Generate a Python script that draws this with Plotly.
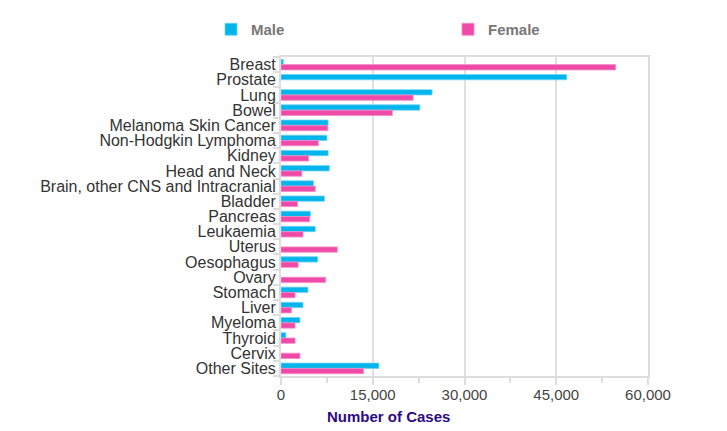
import plotly.graph_objects as go

# Cancer sites, top to bottom
sites = [
    "Breast", "Prostate", "Lung", "Bowel", "Melanoma Skin Cancer",
    "Non-Hodgkin Lymphoma", "Kidney", "Head and Neck",
    "Brain, other CNS and Intracranial", "Bladder", "Pancreas", "Leukaemia",
    "Uterus", "Oesophagus", "Ovary", "Stomach", "Liver", "Myeloma",
    "Thyroid", "Cervix", "Other Sites",
]

# Number of cases
male = [370, 46700, 24700, 22700, 7700, 7500, 7700, 7900, 5300, 7100,
        4800, 5600, None, 6000, None, 4400, 3600, 3100, 800, None, 16000]
female = [54700, None, 21600, 18200, 7650, 6100, 4500, 3400, 5600, 2700,
          4700, 3600, 9200, 2800, 7300, 2300, 1700, 2300, 2300, 3100, 13500]

x_ticks = [0, 15000, 30000, 45000, 60000]

MALE_COL = "#00b4ec"
FEMALE_COL = "#f04aa8"

# plot area in figure pixels (page body adds an 8px offset)
W, H = 727, 431
L, R, T, B = 273, 640, 49, 368
PW, PH = R - L, B - T

fig = go.Figure()

fig.add_trace(go.Bar(
    y=sites, x=male, name="Male", orientation="h", legend="legend",
    marker=dict(color=MALE_COL, line=dict(color="#6fd3f5", width=0.8)),
))
fig.add_trace(go.Bar(
    y=sites, x=female, name="Female", orientation="h", legend="legend2",
    marker=dict(color=FEMALE_COL, line=dict(color="#f68cc6", width=0.8)),
))

legend_font = dict(size=15, color="#777", weight="bold")
leg_y = 1 + (T - 5) / PH

fig.update_layout(
    width=W, height=H,
    margin=dict(l=L, r=W - R, t=T, b=H - B, autoexpand=False),
    paper_bgcolor="white", plot_bgcolor="white",
    showlegend=True,
    barmode="group", bargap=0.3, bargroupgap=0,
    font=dict(family="Liberation Sans, Arial, sans-serif", color="#333"),
    legend=dict(
        x=(203 - L) / PW, y=leg_y, xanchor="left", yanchor="top",
        font=legend_font, itemwidth=30,
    ),
    legend2=dict(
        x=(440 - L) / PW, y=leg_y, xanchor="left", yanchor="top",
        font=legend_font, itemwidth=30,
    ),
)

fig.update_xaxes(
    range=[0, 60000], tickvals=x_ticks, tickformat=",",
    tickfont=dict(size=15, color="#444"),
    showgrid=True, gridcolor="#e0e0e0", gridwidth=2,
    showline=True, linecolor="#dddddd", linewidth=2, mirror=True,
    ticks="outside", ticklen=7, tickcolor="#dddddd", tickwidth=2,
    ticklabelstandoff=-3,
    minor=dict(dtick=7500, ticks="outside", ticklen=5, tickcolor="#dddddd",
               showgrid=False),
    zeroline=False, automargin=False,
)
fig.update_yaxes(
    autorange="reversed",
    tickmode="array", tickvals=sites, ticktext=sites,
    tickfont=dict(size=16, color="#333"),
    showline=True, linecolor="#dddddd", linewidth=2, mirror=True,
    ticks="outside", tickson="boundaries", ticklen=6,
    tickcolor="#dddddd", tickwidth=2, automargin=False,
)

fig.add_annotation(
    text="<b>Number of Cases</b>", xref="paper", yref="paper",
    x=(380 - L) / PW, y=-(398 - B) / PH, xanchor="center", yanchor="top",
    showarrow=False, font=dict(size=15, color="#2e0a87"),
)

fig.write_html("out.html")
